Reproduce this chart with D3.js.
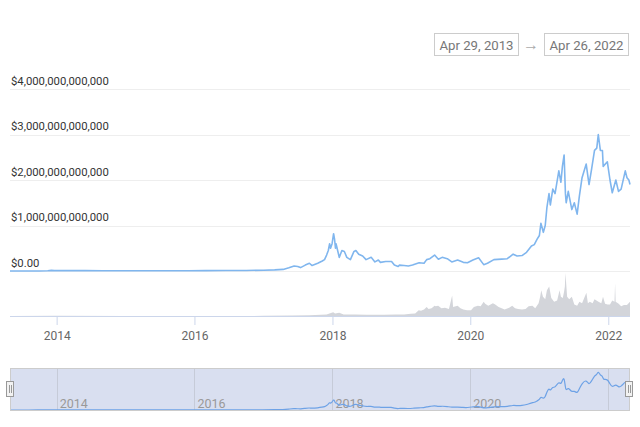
<!DOCTYPE html>
<html>
<head>
<meta charset="utf-8">
<script src="https://cdn.jsdelivr.net/npm/d3@7"></script>
<style>
  html, body { margin: 0; padding: 0; background: #fff; }
  svg { display: block; font-family: Roboto, "Noto Sans", sans-serif; }
</style>
</head>
<body>
<svg id="chart" width="640" height="427"></svg>
<script>
// ---- Data (market cap in trillions USD, volume in billions USD) ----
const capDates = [
  "2013-04-29","2013-07-01","2013-10-01","2013-11-15","2013-12-04","2013-12-20",
  "2014-01-15","2014-03-01","2014-06-01","2014-09-01","2015-01-01","2015-06-01",
  "2015-12-01","2016-03-01","2016-06-15","2016-10-01","2017-01-01","2017-03-01",
  "2017-04-15","2017-05-15","2017-06-12","2017-07-01","2017-07-16","2017-08-10",
  "2017-09-01","2017-09-15","2017-10-15","2017-11-08","2017-11-20","2017-12-01",
  "2017-12-10","2017-12-17","2017-12-22","2017-12-30","2018-01-07","2018-01-12",
  "2018-01-17","2018-01-20","2018-02-06","2018-02-20","2018-03-05","2018-03-18",
  "2018-04-06","2018-04-25","2018-05-05","2018-05-20","2018-06-10","2018-06-28",
  "2018-07-25","2018-08-14","2018-09-01","2018-09-12","2018-10-10","2018-11-10",
  "2018-11-25","2018-12-15","2018-12-22","2019-01-15","2019-02-07","2019-03-01",
  "2019-04-05","2019-05-01","2019-05-15","2019-06-01","2019-06-26","2019-07-16",
  "2019-08-05","2019-09-01","2019-09-25","2019-10-26","2019-11-25","2019-12-17",
  "2020-01-15","2020-02-14","2020-03-12","2020-04-01","2020-05-05","2020-06-15",
  "2020-07-15","2020-08-15","2020-09-05","2020-10-01","2020-10-25","2020-11-20",
  "2020-12-05","2020-12-20","2021-01-01","2021-01-09","2021-01-22","2021-02-01",
  "2021-02-10","2021-02-21","2021-02-28","2021-03-13","2021-03-25","2021-04-14",
  "2021-04-25","2021-05-03","2021-05-12","2021-05-19","2021-05-23","2021-06-03",
  "2021-06-22","2021-07-05","2021-07-20","2021-08-01","2021-08-15","2021-09-06",
  "2021-09-21","2021-10-05","2021-10-20","2021-11-01","2021-11-09","2021-11-20",
  "2021-12-01","2021-12-05","2021-12-27","2022-01-10","2022-01-22","2022-02-10",
  "2022-02-24","2022-03-10","2022-04-01","2022-04-10","2022-04-20","2022-04-26"
];
const capValues = [
  0.0015,0.0011,0.0016,0.006,0.014,0.008,
  0.012,0.008,0.008,0.006,0.004,0.004,
  0.007,0.008,0.012,0.011,0.018,0.025,
  0.035,0.07,0.11,0.10,0.075,0.13,
  0.17,0.12,0.17,0.22,0.25,0.35,
  0.45,0.60,0.50,0.60,0.82,0.70,
  0.50,0.60,0.30,0.45,0.43,0.30,
  0.25,0.43,0.45,0.37,0.33,0.25,
  0.30,0.20,0.24,0.19,0.21,0.21,
  0.13,0.10,0.13,0.12,0.11,0.13,
  0.18,0.17,0.25,0.27,0.35,0.26,
  0.30,0.27,0.20,0.24,0.19,0.18,
  0.24,0.29,0.14,0.17,0.25,0.26,
  0.27,0.37,0.33,0.34,0.41,0.55,
  0.58,0.70,0.78,1.05,0.85,1.00,
  1.40,1.70,1.45,1.80,1.70,2.20,
  1.95,2.30,2.55,1.70,1.50,1.75,
  1.35,1.50,1.25,1.65,2.05,2.35,
  1.90,2.25,2.65,2.70,3.00,2.65,
  2.65,2.30,2.40,2.00,1.72,2.00,
  1.75,1.80,2.20,2.05,2.00,1.90
];
const volDates = [
  "2013-04-29","2014-01-01","2015-01-01","2016-01-01","2017-01-01","2017-06-01",
  "2017-09-01","2017-12-01","2017-12-20","2018-01-05","2018-01-15","2018-02-06",
  "2018-03-01","2018-05-01","2018-07-01","2018-10-01","2018-12-01","2019-01-15",
  "2019-02-20","2019-03-15","2019-04-03","2019-04-15","2019-05-01","2019-05-15",
  "2019-05-25","2019-06-10","2019-06-26","2019-07-02","2019-07-15","2019-08-01",
  "2019-08-20","2019-09-10","2019-09-27","2019-10-02","2019-10-26","2019-11-10",
  "2019-11-25","2019-12-15","2020-01-05","2020-01-20","2020-02-10","2020-02-25",
  "2020-03-12","2020-03-20","2020-04-05","2020-04-30","2020-05-12","2020-05-30",
  "2020-06-15","2020-07-01","2020-07-25","2020-08-10","2020-08-25","2020-09-10",
  "2020-10-01","2020-10-20","2020-11-05","2020-11-25","2020-12-10","2020-12-28",
  "2021-01-05","2021-01-11","2021-01-20","2021-02-01","2021-02-10","2021-02-22",
  "2021-03-05","2021-03-20","2021-04-05","2021-04-18","2021-04-25","2021-05-05",
  "2021-05-12","2021-05-16","2021-05-19","2021-05-28","2021-06-08","2021-06-22",
  "2021-07-05","2021-07-20","2021-08-01","2021-08-15","2021-09-07","2021-09-15",
  "2021-09-25","2021-10-10","2021-10-20","2021-11-10","2021-11-25","2021-12-04",
  "2021-12-15","2021-12-28","2022-01-10","2022-01-22","2022-02-03","2022-02-06",
  "2022-02-09","2022-02-25","2022-03-10","2022-03-25","2022-04-10","2022-04-26"
];
const volValues = [
  0.5,1,0.5,0.5,1,4,
  5,12,22,30,20,25,
  12,12,10,9,12,12,
  18,20,45,40,50,70,
  55,60,80,75,80,60,
  65,55,160,70,80,60,
  50,45,45,70,80,75,
  110,95,80,100,90,70,
  60,50,65,80,60,55,
  50,55,75,80,60,100,
  150,200,150,130,200,230,
  140,110,120,200,150,140,
  190,230,335,150,130,150,
  90,80,110,100,180,100,
  110,100,130,110,100,150,
  95,90,90,120,110,255,
  110,95,75,85,85,110
];
const yTicks = [0, 1e12, 2e12, 3e12, 4e12];
const startLabel = "Apr 29, 2013";
const endLabel = "Apr 26, 2022";

// ---- Build series ----
const parse = d3.utcParse("%Y-%m-%d");
const cap = capDates.map((d, i) => ({ date: parse(d), value: capValues[i] * 1e12 }));
const vol = volDates.map((d, i) => ({ date: parse(d), value: volValues[i] * 1e9 }));

const svg = d3.select("#chart");
const x = d3.scaleUtc().domain([parse("2013-04-29"), parse("2022-04-26")]).range([10, 630]);
const y = d3.scaleLinear().domain([0, 4e12]).range([271, 89]);
const yVol = d3.scaleLinear().domain([0, 350e9]).range([316, 271]);

// Date range boxes
const boxes = [{ x: 434, w: 84, t: startLabel }, { x: 544, w: 84, t: endLabel }];
boxes.forEach(b => {
  svg.append("rect").attr("x", b.x + 0.5).attr("y", 33.5).attr("width", b.w).attr("height", 22)
    .attr("fill", "#fff").attr("stroke", "#cccccc");
  svg.append("text").attr("x", b.x + b.w / 2 + 0.5).attr("y", 49.5).attr("text-anchor", "middle")
    .attr("font-size", 13.2).attr("fill", "#777").text(b.t);
});
svg.append("text").attr("x", 531).attr("y", 50).attr("text-anchor", "middle")
  .attr("font-size", 16).attr("fill", "#aaa").text("→");

// Grid lines + y labels
const fmt = v => v === 0 ? "$0.00" : "$" + d3.format(",.0f")(v);
const grid = svg.append("g");
grid.selectAll("line").data(yTicks).join("line")
  .attr("x1", 10).attr("x2", 630)
  .attr("y1", d => Math.round(y(d)) + 0.5).attr("y2", d => Math.round(y(d)) + 0.5)
  .attr("stroke", "#eeeeee");
grid.selectAll("text").data(yTicks).join("text")
  .attr("x", 11).attr("y", d => y(d) - 4.5)
  .attr("font-size", 11.3).attr("fill", "#333").text(fmt);

// Volume area
svg.append("path").datum(vol)
  .attr("fill", "#d3d5da")
  .attr("d", d3.area().x(d => x(d.date)).y0(316).y1(d => yVol(d.value)));

// X axis
const xAxis = svg.append("g").attr("transform", "translate(0,316)")
  .call(d3.axisBottom(x).ticks(d3.utcYear.every(2)).tickFormat(d3.utcFormat("%Y")).tickSize(9).tickPadding(6));
xAxis.select(".domain").attr("stroke", "#ccd6eb").attr("d", "M10,0.5H630");
xAxis.selectAll(".tick line").attr("stroke", "#ccd6eb");
xAxis.selectAll(".tick text").attr("font-size", 12).attr("fill", "#666").attr("font-family", "Roboto");

// Main line
svg.append("path").datum(cap)
  .attr("fill", "none").attr("stroke", "#80b6ee").attr("stroke-width", 1.6)
  .attr("stroke-linejoin", "round")
  .attr("d", d3.line().x(d => x(d.date)).y(d => y(d.value)));

// Navigator
const nav = svg.append("g");
const yNav = d3.scaleLinear().domain([0, d3.max(cap, d => d.value)]).range([410, 371]);
nav.append("rect").attr("x", 10).attr("y", 368).attr("width", 620).attr("height", 42)
  .attr("fill", "#d9dff0");
const navTicks = x.ticks(d3.utcYear.every(2));
nav.selectAll("line.g").data(navTicks).join("line").attr("class", "g")
  .attr("x1", d => Math.round(x(d)) + 0.5).attr("x2", d => Math.round(x(d)) + 0.5)
  .attr("y1", 368).attr("y2", 410).attr("stroke", "#c6cbd8");
nav.selectAll("text").data(navTicks.filter(d => x(d) + 32 < 630)).join("text")
  .attr("x", d => x(d) + 3).attr("y", 407.5)
  .attr("font-size", 12.5).attr("fill", "#999").text(d3.utcFormat("%Y"));
nav.append("path").datum(cap)
  .attr("fill", "none").attr("stroke", "#6ea2e6").attr("stroke-width", 1.2)
  .attr("d", d3.line().curve(d3.curveBasis).x(d => x(d.date)).y(d => yNav(d.value)));
nav.append("rect").attr("x", 10.5).attr("y", 368.5).attr("width", 619).attr("height", 42)
  .attr("fill", "none").attr("stroke", "#cccccc");
// handles
[6, 625].forEach(hx => {
  nav.append("rect").attr("x", hx + 0.5).attr("y", 381.5).attr("width", 7).attr("height", 15)
    .attr("fill", "#f2f2f2").attr("stroke", "#999");
  [hx + 3, hx + 5].forEach(lx => nav.append("line")
    .attr("x1", lx + 0.5).attr("x2", lx + 0.5).attr("y1", 385).attr("y2", 393).attr("stroke", "#999"));
});
</script>
</body>
</html>
